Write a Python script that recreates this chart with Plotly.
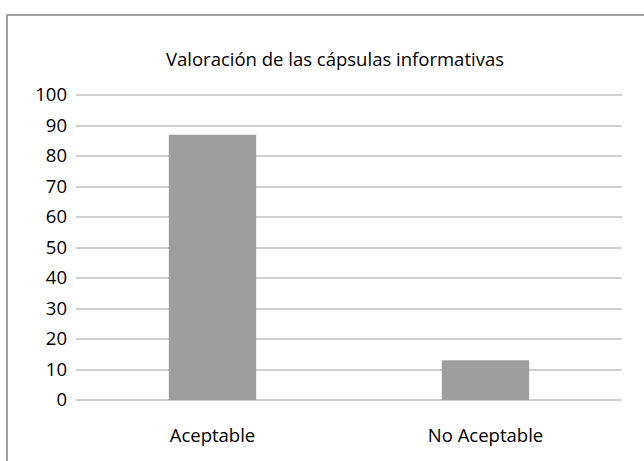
import plotly.graph_objects as go

categories = ["Aceptable", "No Aceptable"]
values = [87, 13]
y_ticks = list(range(0, 101, 10))
title_text = "Valoración de las cápsulas informativas"

W, H = 644, 461
L, R, T, B = 76, 22, 88, 61
pw = W - L - R
ph = H - T - B
y_max = ph / 3.05

def px_x(x):
    return (x - L) / pw

def px_y(y):
    return (H - B - y) / ph

fig = go.Figure(go.Bar(x=categories, y=values, marker_color="#9e9e9e",
                       marker_line_width=0, width=0.32))

font = "Open Sans"
fs = 18.5
fig.update_layout(
    width=W, height=H,
    margin=dict(l=L, r=R, t=T, b=B),
    paper_bgcolor="white", plot_bgcolor="white",
    showlegend=False,
    title=dict(text=title_text, x=335 / W, xanchor="center", xref="container",
               y=1 - 60 / H, yanchor="middle", yref="container",
               font=dict(family=font, size=fs, color="#000000")),
    font=dict(family=font, size=fs, color="#000000"),
    xaxis=dict(showgrid=False, showline=False, ticks="", ticklabelstandoff=22,
               tickfont=dict(size=fs)),
    yaxis=dict(range=[0, y_max], tickvals=y_ticks, showgrid=True, gridcolor="#d0d0d0",
               gridwidth=1.5, zeroline=True, zerolinecolor="#d0d0d0", zerolinewidth=1.5,
               showline=False, ticks="", ticklabelstandoff=8, tickfont=dict(size=fs)),
    shapes=[dict(type="rect", xref="paper", yref="paper",
                 x0=px_x(7), x1=px_x(700), y0=px_y(H + 40), y1=px_y(15),
                 line=dict(color="#a0a0a0", width=2), fillcolor="rgba(0,0,0,0)",
                 layer="above")],
)
fig.write_html("out.html", config={"displayModeBar": False},
               post_script="document.body.style.margin='0';document.body.style.overflow='hidden';")
